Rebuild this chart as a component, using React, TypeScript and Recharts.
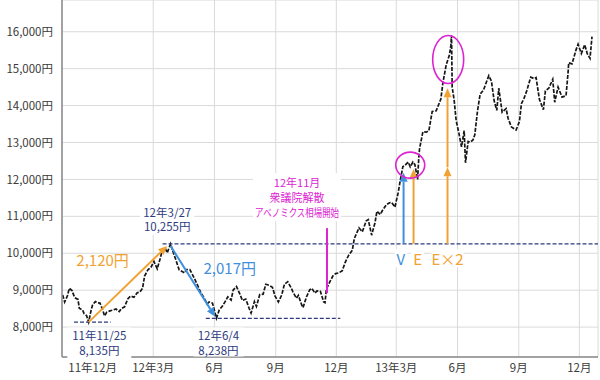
import React from 'react';
import { ComposedChart, Line, XAxis, YAxis, CartesianGrid, ReferenceLine, ReferenceDot } from 'recharts';

// 日経平均 2011/10 - 2013/12 (終値ベース、チャートから読み取り)
const dates = [
  '2011-10-17', '2011-10-20', '2011-10-24', '2011-10-27', '2011-10-31', '2011-11-04', '2011-11-09', '2011-11-11',
  '2011-11-16', '2011-11-18', '2011-11-22', '2011-11-25', '2011-11-29', '2011-12-01', '2011-12-05', '2011-12-08',
  '2011-12-12', '2011-12-15', '2011-12-19', '2011-12-22', '2011-12-27', '2011-12-30',
  '2012-01-05', '2012-01-10', '2012-01-13', '2012-01-18', '2012-01-23', '2012-01-27', '2012-02-01', '2012-02-06',
  '2012-02-10', '2012-02-14', '2012-02-17', '2012-02-22', '2012-02-27', '2012-03-02', '2012-03-07', '2012-03-12',
  '2012-03-15', '2012-03-19', '2012-03-22', '2012-03-27', '2012-03-30', '2012-04-04', '2012-04-09', '2012-04-12',
  '2012-04-17', '2012-04-20', '2012-04-25', '2012-05-01', '2012-05-07', '2012-05-11', '2012-05-16', '2012-05-21',
  '2012-05-24', '2012-05-29', '2012-06-04', '2012-06-08', '2012-06-13', '2012-06-18', '2012-06-21', '2012-06-26',
  '2012-06-29', '2012-07-04', '2012-07-09', '2012-07-13', '2012-07-18', '2012-07-23', '2012-07-26', '2012-07-31',
  '2012-08-03', '2012-08-08', '2012-08-13', '2012-08-17', '2012-08-22', '2012-08-27', '2012-08-31', '2012-09-05',
  '2012-09-10', '2012-09-14', '2012-09-19', '2012-09-24', '2012-09-27', '2012-10-02', '2012-10-05', '2012-10-10',
  '2012-10-12', '2012-10-17', '2012-10-22', '2012-10-25', '2012-10-30', '2012-11-02', '2012-11-07', '2012-11-12',
  '2012-11-14', '2012-11-16', '2012-11-21', '2012-11-26', '2012-11-30', '2012-12-05', '2012-12-10', '2012-12-14',
  '2012-12-19', '2012-12-25', '2012-12-28',
  '2013-01-04', '2013-01-09', '2013-01-15', '2013-01-18', '2013-01-23', '2013-01-28', '2013-01-31', '2013-02-05',
  '2013-02-08', '2013-02-14', '2013-02-19', '2013-02-22', '2013-02-27', '2013-03-04', '2013-03-07', '2013-03-11',
  '2013-03-14', '2013-03-19', '2013-03-22', '2013-03-26', '2013-03-29', '2013-04-02', '2013-04-04', '2013-04-05',
  '2013-04-10', '2013-04-15', '2013-04-19', '2013-04-24', '2013-04-30', '2013-05-07', '2013-05-10', '2013-05-15',
  '2013-05-20', '2013-05-22', '2013-05-23', '2013-05-24', '2013-05-27', '2013-05-30', '2013-06-03', '2013-06-07',
  '2013-06-11', '2013-06-13', '2013-06-17', '2013-06-20', '2013-06-24', '2013-06-27', '2013-07-01', '2013-07-05',
  '2013-07-10', '2013-07-18', '2013-07-22', '2013-07-26', '2013-07-30', '2013-08-02', '2013-08-07', '2013-08-13',
  '2013-08-16', '2013-08-21', '2013-08-28', '2013-09-02', '2013-09-05', '2013-09-09', '2013-09-13', '2013-09-19',
  '2013-09-24', '2013-09-27', '2013-10-02', '2013-10-08', '2013-10-11', '2013-10-16', '2013-10-22', '2013-10-25',
  '2013-10-30', '2013-11-05', '2013-11-11', '2013-11-14', '2013-11-15', '2013-11-20', '2013-11-26', '2013-11-29',
  '2013-12-04', '2013-12-09', '2013-12-13', '2013-12-17', '2013-12-20',
];

const closes = [
  8870, 8680, 8840, 9050, 8990, 8800, 8750, 8510,
  8460, 8370, 8310, 8135, 8480, 8600, 8690, 8660,
  8650, 8520, 8300, 8400, 8440, 8455,
  8490, 8420, 8500, 8550, 8770, 8840, 8810, 8930,
  8950, 9050, 9380, 9550, 9630, 9780, 9580, 9890,
  10120, 10140, 10010, 10255, 10080, 9820, 9550, 9520,
  9470, 9560, 9560, 9350, 9120, 8950, 8800, 8630,
  8680, 8650, 8238, 8460, 8570, 8720, 8820, 8730,
  9000, 9100, 8900, 8720, 8760, 8510, 8380, 8690,
  8560, 8880, 8890, 9160, 9130, 9080, 8840, 8680,
  8870, 9160, 9230, 9070, 8950, 8780, 8860, 8600,
  8530, 8810, 9010, 9050, 8920, 8980, 8970, 8680,
  8660, 9020, 9220, 9390, 9450, 9470, 9530, 9740,
  9930, 10080, 10395,
  10690, 10580, 10880, 10910, 10490, 10820, 11140, 11050,
  11150, 11310, 11370, 11380, 11250, 11650, 11970, 12350,
  12380, 12470, 12340, 12470, 12400, 12000, 12630, 12830,
  13290, 13280, 13320, 13840, 13860, 14180, 14610, 15100,
  15380, 15630, 15900, 14500, 14140, 13590, 13260, 12880,
  13320, 12450, 13030, 13010, 13060, 13210, 13850, 14310,
  14420, 14810, 14660, 14130, 13870, 14470, 13820, 13920,
  13650, 13420, 13340, 13570, 14050, 14200, 14400, 14770,
  14730, 14760, 14170, 13890, 14400, 14470, 14710, 14090,
  14500, 14230, 14270, 14880, 15160, 15130, 15510, 15660,
  15410, 15650, 15400, 15280, 15870,
];

const xTickDates = ['2011-12-01', '2012-03-01', '2012-06-01', '2012-09-01', '2012-12-01', '2013-03-01', '2013-06-01', '2013-09-01', '2013-12-01'];
const xTickLabels = ['11年12月', '12年3月', '6月', '9月', '12月', '13年3月', '6月', '9月', '12月'];
const yTicks = [8000, 9000, 10000, 11000, 12000, 13000, 14000, 15000, 16000];

// 安値・高値の基準点
const pointDates = ['2011-11-25', '2012-03-27', '2012-06-04'];
const pointValues = [8135, 10255, 8238];
const pointLabels = [['11年11/25', '8,135円'], ['12年3/27', '10,255円'], ['12年6/4', '8,238円']];
const swingLabels = ['2,120円', '2,017円'];

// 計算値 (V, E, E×2)
const targetNames = ['V', 'E', 'E×2'];
const targetDates = ['2013-03-12', '2013-03-27', '2013-05-17'];
const targetValues = [12180, 12280, 14470];
const targetMid = 12330;

const noteLines = ['12年11月', '衆議院解散', 'アベノミクス相場開始'];

const BASE = Date.UTC(2011, 11, 1);
const toDay = (s: string) => {
  const [y, m, d] = s.split('-').map(Number);
  return Math.round((Date.UTC(y, m - 1, d) - BASE) / 86400000);
};

const data = dates.map((d, i) => ({ t: toDay(d), close: closes[i] }));
const xTicks = xTickDates.map(toDay);
const xMin = toDay('2011-10-17') - 1;
const xMax = toDay('2013-12-29');

const NAVY = '#2d3b7e';
const ORANGE = '#f2a232';
const BLUE = '#3f8fdc';
const MAGENTA = '#dc24d2';
const FONT = '"Noto Sans CJK JP", "Noto Sans", sans-serif';

const fmtYen = (v: number) => String(v).replace(/\B(?=(\d{3})+(?!\d))/g, ',') + '円';

const arrow = (color: string, width = 2) => (p: any) => {
  const { x1, y1, x2, y2 } = p;
  const a = Math.atan2(y2 - y1, x2 - x1);
  const L = 9, W = 4;
  const bx = x2 - L * Math.cos(a);
  const by = y2 - L * Math.sin(a);
  const pts = `${x2},${y2} ${bx + W * Math.sin(a)},${by - W * Math.cos(a)} ${bx - W * Math.sin(a)},${by + W * Math.cos(a)}`;
  return (
    <g>
      <line x1={x1} y1={y1} x2={bx} y2={by} stroke={color} strokeWidth={width} />
      <polygon points={pts} fill={color} />
    </g>
  );
};

const note = (lines: string[], color: string, size: number, lh: number, box?: { w: number; h: number; top: number }, fit?: number[]) => (p: any) => {
  const { cx, cy } = p;
  return (
    <g>
      {box && <rect x={cx - box.w / 2} y={cy - box.top} width={box.w} height={box.h} fill="#fff" />}
      {lines.map((s, i) => (
        <text
          key={i}
          x={cx}
          y={cy + i * lh}
          textAnchor="middle"
          dominantBaseline="central"
          fill={color}
          fontSize={size}
          fontFamily={FONT}
          {...(fit && fit[i] ? { textLength: fit[i], lengthAdjust: 'spacingAndGlyphs' } : {})}
        >
          {s}
        </text>
      ))}
    </g>
  );
};

const ellipse = (rx: number, ry: number) => (p: any) => (
  <ellipse cx={p.cx} cy={p.cy} rx={rx} ry={ry} fill="none" stroke={MAGENTA} strokeWidth={1.6} />
);

export default function App() {
  const tickStyle = { fill: '#3a3a3a', fontSize: 11.5, fontFamily: FONT };
  return (
    <div style={{ position: 'absolute', left: 0, top: 0, width: 600, height: 380, background: '#fff' }}>
      <ComposedChart width={600} height={380} data={data} margin={{ top: 0, right: 2, bottom: 0, left: 0 }}>
        <CartesianGrid stroke="#dadada" strokeWidth={1} />
        <XAxis
          dataKey="t"
          type="number"
          domain={[xMin, xMax]}
          ticks={xTicks}
          tickFormatter={(v: number) => xTickLabels[xTicks.indexOf(v)] ?? ''}
          tick={tickStyle}
          tickLine={false}
          tickSize={4}
          tickMargin={3}
          height={23}
          axisLine={{ stroke: '#8a8a8a', strokeWidth: 1.5 }}
          allowDataOverflow
        />
        <YAxis
          type="number"
          domain={[7190, 16860]}
          ticks={yTicks}
          tickFormatter={fmtYen}
          tick={tickStyle}
          tickLine={false}
          tickSize={6}
          tickMargin={3}
          width={62}
          axisLine={{ stroke: '#8a8a8a', strokeWidth: 1.5 }}
          allowDataOverflow
        />
        <Line
          dataKey="close"
          type="linear"
          stroke="#161616"
          strokeWidth={1.7}
          strokeDasharray="4 1.5"
          dot={false}
          isAnimationActive={false}
        />

        {/* 水平の点線 */}
        <ReferenceLine segment={[{ x: toDay('2011-11-03'), y: pointValues[0] }, { x: toDay('2011-12-28'), y: pointValues[0] }]} stroke={NAVY} strokeDasharray="4 2" strokeWidth={1.2} />
        <ReferenceLine segment={[{ x: toDay('2012-03-15'), y: pointValues[1] }, { x: xMax, y: pointValues[1] }]} stroke={NAVY} strokeDasharray="4 2" strokeWidth={1.2} />
        <ReferenceLine segment={[{ x: toDay('2012-05-19'), y: pointValues[2] }, { x: toDay('2012-12-07'), y: pointValues[2] }]} stroke={NAVY} strokeDasharray="4 2" strokeWidth={1.2} />

        {/* 上昇・下落幅の矢印 */}
        <ReferenceLine segment={[{ x: toDay(pointDates[0]), y: pointValues[0] }, { x: toDay('2012-03-22'), y: 10200 }]} shape={arrow(ORANGE)} />
        <ReferenceLine segment={[{ x: toDay(pointDates[1]), y: 10200 }, { x: toDay('2012-06-02'), y: 8280 }]} shape={arrow(BLUE)} />

        {/* 衆議院解散 */}
        <ReferenceLine segment={[{ x: toDay('2012-11-17'), y: 8920 }, { x: toDay('2012-11-17'), y: 10680 }]} stroke={MAGENTA} strokeWidth={2} />

        {/* 計算値の矢印 */}
        <ReferenceLine segment={[{ x: toDay(targetDates[0]), y: pointValues[1] }, { x: toDay(targetDates[0]), y: targetValues[0] }]} shape={arrow(BLUE)} />
        <ReferenceLine segment={[{ x: toDay(targetDates[1]), y: pointValues[1] }, { x: toDay(targetDates[1]), y: targetValues[1] }]} shape={arrow(ORANGE)} />
        <ReferenceLine segment={[{ x: toDay(targetDates[2]), y: pointValues[1] }, { x: toDay(targetDates[2]), y: targetMid }]} shape={arrow(ORANGE)} />
        <ReferenceLine segment={[{ x: toDay(targetDates[2]), y: targetMid }, { x: toDay(targetDates[2]), y: targetValues[2] }]} shape={arrow(ORANGE)} />

        {/* 丸 */}
        <ReferenceDot x={toDay('2013-03-22')} y={12388} shape={ellipse(14.5, 13)} />
        <ReferenceDot x={toDay('2013-05-18')} y={15247} shape={ellipse(15.5, 24)} />

        {/* ラベル */}
        <ReferenceDot x={toDay('2011-12-11')} y={7774} shape={note(pointLabels[0], NAVY, 11.5, 14.5, { w: 64, h: 36, top: 8 })} />
        <ReferenceDot x={toDay('2012-03-22')} y={11125} shape={note(pointLabels[1], NAVY, 11.5, 14.5, { w: 54, h: 31, top: 8 })} />
        <ReferenceDot x={toDay('2012-06-07')} y={7774} shape={note(pointLabels[2], NAVY, 11.5, 14.5, { w: 50, h: 29, top: 8 })} />
        <ReferenceDot x={toDay('2011-12-16')} y={9835} shape={note([swingLabels[0]], ORANGE, 15, 0)} />
        <ReferenceDot x={toDay('2012-06-24')} y={9620} shape={note([swingLabels[1]], BLUE, 15, 0)} />
        <ReferenceDot x={toDay('2012-10-03')} y={11927} shape={note(noteLines, MAGENTA, 11, 15, { w: 88, h: 48, top: 9 }, [0, 0, 84])} />
        <ReferenceDot x={toDay('2013-03-08')} y={9867} shape={note([targetNames[0]], BLUE, 15, 0, { w: 13, h: 18, top: 9 })} />
        <ReferenceDot x={toDay('2013-04-02')} y={9867} shape={note([targetNames[1]], ORANGE, 15, 0, { w: 13, h: 18, top: 9 })} />
        <ReferenceDot x={toDay('2013-05-17')} y={9867} shape={note([targetNames[2]], ORANGE, 15, 0, { w: 32, h: 18, top: 9 })} />
      </ComposedChart>
    </div>
  );
}
